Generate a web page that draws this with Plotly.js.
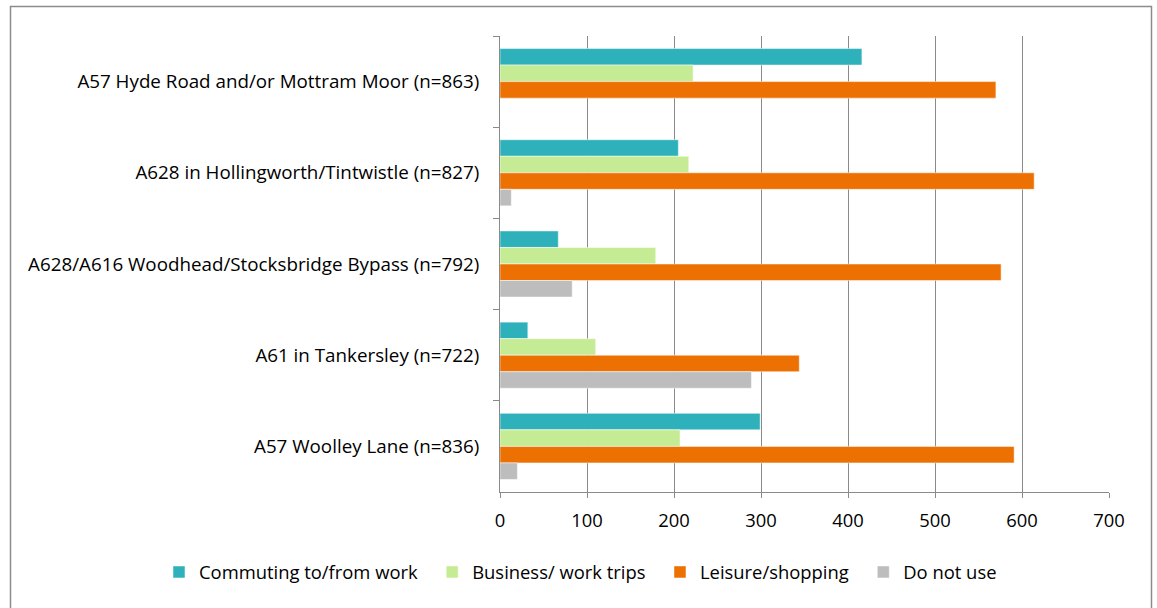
<!DOCTYPE html>
<html>
<head>
<meta charset="utf-8">
<script src="https://cdn.plot.ly/plotly-3.0.1.min.js"></script>
<style>
  html, body { margin: 0; padding: 0; background: #ffffff; }
  #chart { width: 1157px; height: 608px; }
</style>
</head>
<body>
<div id="chart"></div>
<script>
// Road sections, listed top to bottom
const roads = [
  'A57 Hyde Road and/or Mottram Moor (n=863)',
  'A628 in Hollingworth/Tintwistle (n=827)',
  'A628/A616 Woodhead/Stocksbridge Bypass (n=792)',
  'A61 in Tankersley (n=722)',
  'A57 Woolley Lane (n=836)'
];

// Number of respondents per purpose of use
const commuting = [416, 205, 67, 32, 299];
const business  = [222, 217, 179, 110, 207];
const leisure   = [570, 614, 576, 344, 591];
const doNotUse  = [0, 13, 83, 289, 20];

const seriesNames = ['Commuting to/from work', 'Business/ work trips', 'Leisure/shopping', 'Do not use'];
const seriesValues = [commuting, business, leisure, doNotUse];
const seriesColors = ['#2EB1BB', '#C5EC94', '#ED7002', '#BDBDBD'];

const xTicks = [0, 100, 200, 300, 400, 500, 600, 700];

const W = 1157, H = 608;
const margin = { l: 500, r: 48, t: 36, b: 116 };
const FONT = '"Open Sans", "Noto Sans", sans-serif';

// extra room after each legend entry
const legendPad = '\u00a0'.repeat(2);

const traces = seriesNames.map((name, i) => ({
  type: 'bar',
  orientation: 'h',
  name: name + legendPad,
  y: roads,
  x: seriesValues[i],
  marker: { color: seriesColors[i], line: { color: 'rgba(255,255,255,0.5)', width: 1 } },
  hovertemplate: '%{x}<extra>' + name + '</extra>'
}));

// Outer chart frame, expressed in paper units of the plot area
const pw = W - margin.l - margin.r, ph = H - margin.t - margin.b;
const toPx = px => (px - margin.l) / pw;
const toPy = py => 1 - (py - margin.t) / ph;

const layout = {
  width: W,
  height: H,
  margin: margin,
  paper_bgcolor: '#ffffff',
  plot_bgcolor: '#ffffff',
  font: { family: FONT, size: 18.4, color: '#000000' },
  barmode: 'group',
  bargap: 0.275,
  bargroupgap: 0,
  showlegend: true,
  legend: {
    orientation: 'h',
    xref: 'paper', yref: 'paper',
    x: toPx(159), xanchor: 'left',
    y: toPy(572), yanchor: 'middle',
    font: { family: FONT, size: 18.4, color: '#000000' },
    traceorder: 'normal',
    bgcolor: 'rgba(0,0,0,0)'
  },
  xaxis: {
    range: [0, 700],
    tickvals: xTicks,
    ticktext: xTicks.map(String),
    showgrid: true,
    gridcolor: '#8a8a8a',
    gridwidth: 1,
    zeroline: false,
    showline: true,
    linecolor: '#8a8a8a',
    linewidth: 1,
    ticks: 'outside',
    ticklen: 5,
    tickcolor: '#8a8a8a',
    ticklabelstandoff: 7,
    tickfont: { family: FONT, size: 18.4, color: '#000000' },
    fixedrange: true
  },
  yaxis: {
    type: 'category',
    autorange: 'reversed',
    showgrid: false,
    zeroline: false,
    showline: true,
    linecolor: '#8a8a8a',
    linewidth: 1,
    ticks: 'outside',
    tickson: 'boundaries',
    ticklen: 6,
    tickcolor: '#8a8a8a',
    ticklabelstandoff: 16,
    tickfont: { family: FONT, size: 18.8, color: '#000000' },
    fixedrange: true
  },
  shapes: [{
    type: 'rect',
    xref: 'paper', yref: 'paper',
    x0: toPx(10.5), x1: toPx(1151.5),
    y0: toPy(620), y1: toPy(6.5),
    line: { color: '#8c8c8c', width: 1.5 },
    fillcolor: 'rgba(0,0,0,0)',
    layer: 'below'
  }]
};

Plotly.newPlot('chart', traces, layout, { displayModeBar: false, responsive: false });
</script>
</body>
</html>
